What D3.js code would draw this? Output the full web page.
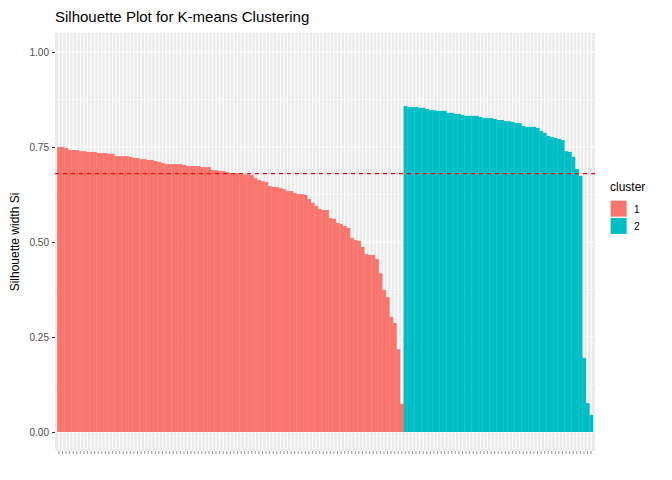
<!DOCTYPE html>
<html>
<head>
<meta charset="utf-8">
<script src="https://cdn.jsdelivr.net/npm/d3@7"></script>
<style>
  body { margin: 0; background: #fff; }
  text { font-family: "Liberation Sans", Arial, sans-serif; }
</style>
</head>
<body>
<svg id="chart" width="672" height="480"></svg>
<script>
// silhouette widths, sorted within each cluster
const cluster1 = [
  0.750, 0.750, 0.747, 0.742, 0.742, 0.742, 0.739, 0.739, 0.737, 0.737, 0.737,
  0.734, 0.734, 0.734, 0.732, 0.732, 0.726, 0.726, 0.726, 0.726, 0.724, 0.721,
  0.721, 0.718, 0.718, 0.716, 0.716, 0.713, 0.711, 0.708, 0.705, 0.705, 0.705,
  0.705, 0.705, 0.703, 0.700, 0.700, 0.700, 0.700, 0.697, 0.697, 0.697, 0.689,
  0.689, 0.687, 0.687, 0.684, 0.681, 0.681, 0.681, 0.678, 0.678, 0.678,
  0.676, 0.668, 0.663, 0.660, 0.658, 0.647, 0.645, 0.645, 0.642, 0.639, 0.634,
  0.634, 0.629, 0.626, 0.626, 0.624, 0.613, 0.603, 0.595, 0.587, 0.584, 0.584,
  0.563, 0.561, 0.550, 0.547, 0.542, 0.537, 0.511, 0.505, 0.503, 0.487, 0.468,
  0.466, 0.466, 0.455, 0.418, 0.374, 0.355, 0.303, 0.287, 0.218, 0.074
];
const cluster2 = [
  0.858, 0.855, 0.855, 0.855, 0.853, 0.853, 0.850, 0.847, 0.847, 0.845, 0.845,
  0.845, 0.840, 0.840, 0.837, 0.837, 0.834, 0.832, 0.832, 0.832, 0.832, 0.829,
  0.826, 0.826, 0.826, 0.824, 0.821, 0.821, 0.818, 0.818, 0.816, 0.813, 0.813,
  0.805, 0.803, 0.803, 0.803, 0.800, 0.792, 0.787, 0.779, 0.776, 0.774, 0.771,
  0.768, 0.739, 0.737, 0.724, 0.692, 0.674, 0.195, 0.076, 0.045
];
const clusterNames = ["1", "2"];
const clusterColors = ["#F8766D", "#00BFC4"];
const avgWidth = 0.68;
const yTicks = [0, 0.25, 0.5, 0.75, 1];

const data = cluster1.map(v => ({ c: "1", v }))
  .concat(cluster2.map(v => ({ c: "2", v })));
data.forEach((d, i) => d.id = i + 1);

const svg = d3.select("#chart");
const panel = { left: 55, right: 595, top: 33, bottom: 451 };

const x = d3.scaleBand().domain(data.map(d => d.id))
  .range([panel.left, panel.right]).paddingOuter(0.6).paddingInner(0);
const y = d3.scaleLinear().domain([-0.05, 1.05]).range([panel.bottom, panel.top]);
const color = d3.scaleOrdinal(clusterNames, clusterColors);

svg.append("rect").attr("x", panel.left).attr("y", panel.top)
  .attr("width", panel.right - panel.left).attr("height", panel.bottom - panel.top)
  .attr("fill", "#EBEBEB");

// grid
const minor = d3.range(0.125, 1, 0.25);
svg.append("g").selectAll("line").data(minor).join("line")
  .attr("x1", panel.left).attr("x2", panel.right)
  .attr("y1", d => y(d)).attr("y2", d => y(d))
  .attr("stroke", "#fff").attr("stroke-width", 0.5);
svg.append("g").selectAll("line").data(yTicks).join("line")
  .attr("x1", panel.left).attr("x2", panel.right)
  .attr("y1", d => y(d)).attr("y2", d => y(d))
  .attr("stroke", "#fff").attr("stroke-width", 1.1);
svg.append("g").selectAll("line").data(data).join("line")
  .attr("x1", d => x(d.id) + x.bandwidth() / 2).attr("x2", d => x(d.id) + x.bandwidth() / 2)
  .attr("y1", panel.top).attr("y2", panel.bottom)
  .attr("stroke", "#fff").attr("stroke-width", 1.1);

// bars
svg.append("g").selectAll("rect").data(data).join("rect")
  .attr("x", d => x(d.id)).attr("width", x.bandwidth() + 0.3)
  .attr("y", d => y(d.v)).attr("height", d => y(0) - y(d.v))
  .attr("fill", d => color(d.c));

// average line
svg.append("line").attr("x1", panel.left).attr("x2", panel.right)
  .attr("y1", y(avgWidth)).attr("y2", y(avgWidth))
  .attr("stroke", "red").attr("stroke-width", 1.1).attr("stroke-dasharray", "4,4");

// axes
const yAxis = svg.append("g").attr("transform", `translate(${panel.left},0)`)
  .call(d3.axisLeft(y).tickValues(yTicks).tickFormat(d3.format(".2f")).tickSize(3).tickPadding(3));
yAxis.select(".domain").remove();
yAxis.selectAll("line").attr("stroke", "#333");
yAxis.selectAll("text").attr("fill", "#4D4D4D").style("font-size", "10px");

const xAxis = svg.append("g").attr("transform", `translate(0,${panel.bottom})`)
  .call(d3.axisBottom(x).tickSize(3).tickFormat(""));
xAxis.select(".domain").remove();
xAxis.selectAll("line").attr("stroke", "#333").attr("stroke-width", 0.5);

// labels
svg.append("text").attr("x", panel.left).attr("y", 22)
  .style("font-size", "15px").attr("fill", "#000")
  .text("Silhouette Plot for K-means Clustering");
svg.append("text").attr("transform", `translate(19,${(panel.top + panel.bottom) / 2}) rotate(-90)`)
  .attr("text-anchor", "middle").style("font-size", "12px")
  .text("Silhouette width Si");

// legend
const legend = svg.append("g").attr("transform", "translate(610,180)");
legend.append("text").attr("x", 0).attr("y", 11).style("font-size", "12px").text("cluster");
const keys = legend.selectAll("g").data(clusterNames).join("g")
  .attr("transform", (d, i) => `translate(0,${20 + i * 17.3})`);
keys.append("rect").attr("width", 17.3).attr("height", 17.3).attr("fill", "#F2F2F2");
keys.append("rect").attr("x", 0.7).attr("y", 0.7).attr("width", 15.9).attr("height", 15.9)
  .attr("fill", d => color(d));
keys.append("text").attr("x", 24).attr("y", 12.5).style("font-size", "10px")
  .attr("fill", "#000").text(d => d);
</script>
</body>
</html>
